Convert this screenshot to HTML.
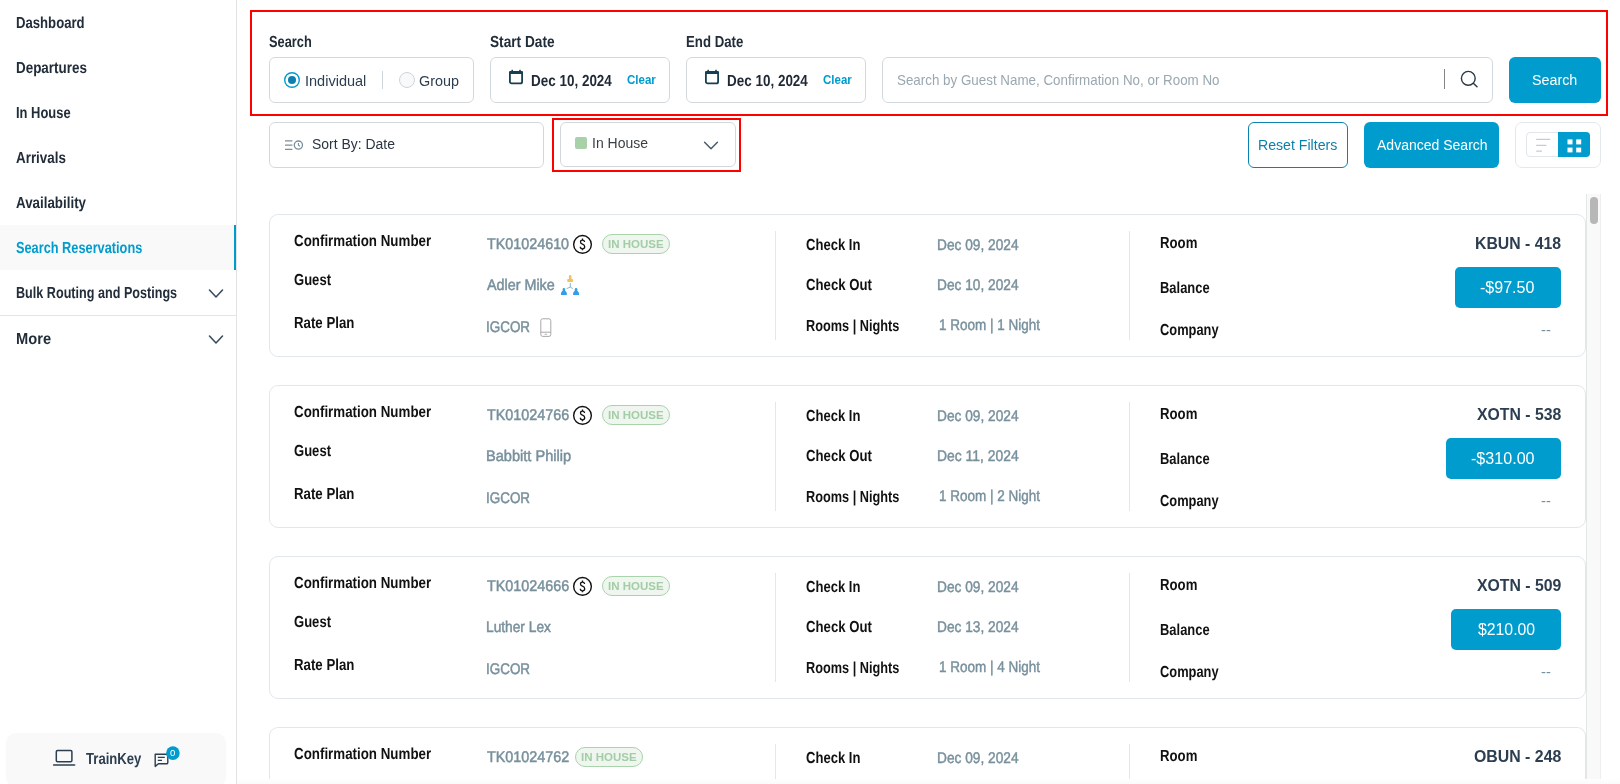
<!DOCTYPE html>
<html>
<head>
<meta charset="utf-8">
<title>Search Reservations</title>
<style>
*{box-sizing:border-box;margin:0;padding:0}
html,body{width:1620px;height:784px;overflow:hidden;background:#fff}
body{font-family:"Liberation Sans",sans-serif;position:relative}
#root{position:absolute;left:0;top:0;width:1620px;height:784px;overflow:hidden;will-change:transform}
.a{position:absolute;display:block}
.t{position:absolute;display:block;white-space:nowrap;line-height:20px;height:20px;transform-origin:0 50%}
</style>
</head>
<body>
<div id="root">
<div class="a" style="left:0;top:225px;width:236px;height:45px;background:#f9f9f9"></div>
<div class="a" style="left:234px;top:225px;width:2px;height:45px;background:#009cce"></div>
<div class="a" style="left:236px;top:0;width:1px;height:784px;background:#e2e3e5"></div>
<span class="t" style="left:16.04px;top:13.46px;font-size:16px;color:#222d3a;transform:scaleX(0.8209) rotate(0.03deg);font-weight:700;">Dashboard</span>
<span class="t" style="left:16.02px;top:58.46px;font-size:16px;color:#222d3a;transform:scaleX(0.8394) rotate(0.03deg);font-weight:700;">Departures</span>
<span class="t" style="left:16.05px;top:103.46px;font-size:16px;color:#222d3a;transform:scaleX(0.8082) rotate(0.03deg);font-weight:700;">In House</span>
<span class="t" style="left:15.77px;top:148.46px;font-size:16px;color:#222d3a;transform:scaleX(0.8369) rotate(0.03deg);font-weight:700;">Arrivals</span>
<span class="t" style="left:15.77px;top:193.46px;font-size:16px;color:#222d3a;transform:scaleX(0.8345) rotate(0.03deg);font-weight:700;">Availability</span>
<span class="t" style="left:15.94px;top:238.46px;font-size:16px;color:#009cce;transform:scaleX(0.7977) rotate(0.03deg);font-weight:700;">Search Reservations</span>
<span class="t" style="left:16.07px;top:283.46px;font-size:16px;color:#222d3a;transform:scaleX(0.7882) rotate(0.03deg);font-weight:700;">Bulk Routing and Postings</span>
<span class="t" style="left:15.94px;top:329.46px;font-size:16px;color:#222d3a;transform:scaleX(0.9168) rotate(0.03deg);font-weight:700;">More</span>
<div class="a" style="left:0;top:315px;width:236px;height:1px;background:#e2e4e6"></div>
<svg class="a" style="left:200px;top:283.9px" width="32" height="20" viewBox="0 0 32 20"><path d="M9.5 6 L16 13 L22.5 6" fill="none" stroke="#3b4d61" stroke-width="1.6" stroke-linecap="round" stroke-linejoin="round"/></svg>
<svg class="a" style="left:200px;top:329.9px" width="32" height="20" viewBox="0 0 32 20"><path d="M9.5 6 L16 13 L22.5 6" fill="none" stroke="#3b4d61" stroke-width="1.6" stroke-linecap="round" stroke-linejoin="round"/></svg>
<div class="a" style="left:6px;top:733px;width:220px;height:54px;background:#f9f9f9;border-radius:10px"></div>
<svg class="a" style="left:50px;top:745px" width="30" height="26" viewBox="0 0 30 26"><rect x="6.3" y="5.6" width="15.6" height="11.2" rx="1.2" fill="none" stroke="#2c3e50" stroke-width="1.5"/><path d="M3.6 20 H24.6" stroke="#2c3e50" stroke-width="1.5" stroke-linecap="round"/></svg>
<span class="t" style="left:86.18px;top:749.16px;font-size:16px;color:#2c3e50;transform:scaleX(0.8196) rotate(0.03deg);font-weight:700;">TrainKey</span>
<svg class="a" style="left:150px;top:742px" width="34" height="30" viewBox="0 0 34 30"><path d="M5.2 12.2 H16.6 a1.2 1.2 0 0 1 1.2 1.2 V20.6 a1.2 1.2 0 0 1 -1.2 1.2 H8.4 L5.2 24.4 Z" fill="none" stroke="#2c3e50" stroke-width="1.4" stroke-linejoin="round"/><path d="M7.8 15.3 H14.8 M7.8 18.3 H12" stroke="#2c3e50" stroke-width="1.3"/><circle cx="22.9" cy="11.1" r="6.8" fill="#009cce"/></svg>
<span class="t" style="left:170.25px;top:743.01px;font-size:9.5px;color:#fff;transform:scaleX(1.0110);">0</span>
<div class="a" style="left:250px;top:10px;width:1358px;height:106px;border:2px solid #fe0000"></div>
<span class="t" style="left:268.94px;top:32.46px;font-size:16px;color:#222d3a;transform:scaleX(0.8008) rotate(0.03deg);font-weight:700;">Search</span>
<span class="t" style="left:489.62px;top:32.46px;font-size:16px;color:#222d3a;transform:scaleX(0.8552) rotate(0.03deg);font-weight:700;">Start Date</span>
<span class="t" style="left:685.53px;top:32.46px;font-size:16px;color:#222d3a;transform:scaleX(0.8266) rotate(0.03deg);font-weight:700;">End Date</span>
<div class="a" style="left:269px;top:57px;width:205px;height:46px;border:1px solid #d2d9de;border-radius:6px;background:#fff"></div>
<svg class="a" style="left:280px;top:68px" width="140" height="24" viewBox="0 0 140 24"><circle cx="12" cy="12" r="7.3" fill="#fff" stroke="#009cce" stroke-width="1.4"/><circle cx="12" cy="12" r="4" fill="#0b7fb0"/><circle cx="127" cy="12" r="7.5" fill="#f8f9fa" stroke="#cdd5da" stroke-width="1"/></svg>
<span class="t" style="left:305.18px;top:71.05px;font-size:14.3px;color:#2c3e50;transform:scaleX(1.0155);">Individual</span>
<div class="a" style="left:382px;top:71px;width:1px;height:18px;background:#cfd6db"></div>
<span class="t" style="left:419.30px;top:71.05px;font-size:14.3px;color:#2c3e50;transform:scaleX(1.0065);">Group</span>
<div class="a" style="left:490px;top:57px;width:180px;height:46px;border:1px solid #d2d9de;border-radius:6px;background:#fff"></div>
<svg class="a" style="left:506px;top:66px" width="20" height="22" viewBox="0 0 20 22"><rect x="3.9" y="5.8" width="12.2" height="11.6" rx="1.7" fill="none" stroke="#173f52" stroke-width="1.8"/><rect x="3" y="5" width="14" height="3" rx="1.2" fill="#173f52"/><rect x="5.4" y="3.8" width="1.6" height="1.8" fill="#173f52"/><rect x="13.2" y="3.8" width="1.6" height="1.8" fill="#173f52"/></svg>
<span class="t" style="left:531.12px;top:71.46px;font-size:16px;color:#1f2835;transform:scaleX(0.8415) rotate(0.03deg);font-weight:700;">Dec 10, 2024</span>
<span class="t" style="left:626.74px;top:70.00px;font-size:12.4px;color:#009cce;transform:scaleX(0.9292);font-weight:700;">Clear</span>
<div class="a" style="left:686px;top:57px;width:180px;height:46px;border:1px solid #d2d9de;border-radius:6px;background:#fff"></div>
<svg class="a" style="left:702px;top:66px" width="20" height="22" viewBox="0 0 20 22"><rect x="3.9" y="5.8" width="12.2" height="11.6" rx="1.7" fill="none" stroke="#173f52" stroke-width="1.8"/><rect x="3" y="5" width="14" height="3" rx="1.2" fill="#173f52"/><rect x="5.4" y="3.8" width="1.6" height="1.8" fill="#173f52"/><rect x="13.2" y="3.8" width="1.6" height="1.8" fill="#173f52"/></svg>
<span class="t" style="left:727.12px;top:71.46px;font-size:16px;color:#1f2835;transform:scaleX(0.8415) rotate(0.03deg);font-weight:700;">Dec 10, 2024</span>
<span class="t" style="left:822.74px;top:70.00px;font-size:12.4px;color:#009cce;transform:scaleX(0.9292);font-weight:700;">Clear</span>
<div class="a" style="left:882px;top:57px;width:611px;height:46px;border:1px solid #d2d9de;border-radius:6px;background:#fff"></div>
<span class="t" style="left:896.59px;top:70.25px;font-size:14.3px;color:#9aa8b1;transform:scaleX(0.9353);">Search by Guest Name, Confirmation No, or Room No</span>
<div class="a" style="left:1444px;top:69px;width:1px;height:20px;background:#858585"></div>
<svg class="a" style="left:1456px;top:66px" width="26" height="26" viewBox="0 0 26 26"><circle cx="12.3" cy="12.3" r="6.9" fill="none" stroke="#2a3a47" stroke-width="1.4"/><path d="M17.3 17.3 L21 20.8" stroke="#2a3a47" stroke-width="1.5" stroke-linecap="round"/></svg>
<div class="a" style="left:1509px;top:57px;width:92px;height:46px;border-radius:6px;background:#009cce"></div>
<span class="t" style="left:1531.84px;top:69.75px;font-size:14px;color:#fff;transform:scaleX(1.0210);">Search</span>
<div class="a" style="left:269px;top:122px;width:275px;height:46px;border:1px solid #d2d9de;border-radius:6px;background:#fff"></div>
<svg class="a" style="left:282px;top:136px" width="24" height="18" viewBox="0 0 24 18"><path d="M3 4.8 H10.4 M3 9.1 H10.4 M3 13.4 H10.4" stroke="#7a8f99" stroke-width="1.2"/><circle cx="16.4" cy="9.1" r="4.1" fill="none" stroke="#7a8f99" stroke-width="1.3"/><path d="M16.4 6.9 V9.2 L18 10.2" fill="none" stroke="#7a8f99" stroke-width="1.1"/></svg>
<span class="t" style="left:312.15px;top:133.85px;font-size:14px;color:#2b3440;transform:scaleX(0.9963);">Sort By: Date</span>
<div class="a" style="left:552px;top:118px;width:189px;height:54px;border:2px solid #fe0000"></div>
<div class="a" style="left:560px;top:122px;width:176px;height:45px;border:1px solid #d2d9de;border-radius:6px;background:#fff"></div>
<div class="a" style="left:575px;top:137px;width:12px;height:12px;background:#a8d0a9;border-radius:2px"></div>
<span class="t" style="left:592.20px;top:133.05px;font-size:14px;color:#3a3f45;transform:scaleX(0.9991);">In House</span>
<svg class="a" style="left:700px;top:138px" width="22" height="16" viewBox="0 0 22 16"><path d="M4.6 4.3 L11 10.8 L17.4 4.3" fill="none" stroke="#4b5b6b" stroke-width="1.5" stroke-linecap="round" stroke-linejoin="round"/></svg>
<div class="a" style="left:1248px;top:122px;width:100px;height:46px;border:1.5px solid #0b83b0;border-radius:6px;background:#fff"></div>
<span class="t" style="left:1258.34px;top:135.35px;font-size:14px;color:#0b7fab;transform:scaleX(1.0091);">Reset Filters</span>
<div class="a" style="left:1364px;top:122px;width:135px;height:46px;border-radius:6px;background:#009cce"></div>
<span class="t" style="left:1376.85px;top:135.35px;font-size:14px;color:#fff;transform:scaleX(1.0009);">Advanced Search</span>
<div class="a" style="left:1515px;top:122px;width:86px;height:46px;border:1px solid #e3e8eb;border-radius:7px;background:#fff"></div>
<div class="a" style="left:1526px;top:132px;width:64px;height:25px;border:1px solid #e1e6e9;border-radius:4px;background:#fff"></div>
<div class="a" style="left:1558px;top:132px;width:32px;height:25px;border-radius:0 4px 4px 0;background:#009cce"></div>
<svg class="a" style="left:1530px;top:134px" width="58" height="22" viewBox="0 0 58 22"><path d="M6.2 5.4 H20.2 M6.2 11.4 H16.3 M6.2 17.2 H12" stroke="#c3ccd2" stroke-width="1.2"/><g fill="#fff"><rect x="37.5" y="5.4" width="5" height="5"/><rect x="46.2" y="5.4" width="5" height="5"/><rect x="37.5" y="13.6" width="5" height="4.8"/><rect x="46.2" y="13.6" width="5" height="4.8"/></g></svg>
<div class="a" style="left:269px;top:214px;width:1317px;height:143px;border:1px solid #e1e7ea;border-radius:9px;background:#fff"></div>
<div class="a" style="left:775px;top:231px;width:1px;height:109px;background:#e1e7ea"></div>
<div class="a" style="left:1129px;top:231px;width:1px;height:109px;background:#e1e7ea"></div>
<span class="t" style="left:293.76px;top:231.46px;font-size:16px;color:#111;transform:scaleX(0.8340) rotate(0.03deg);font-weight:700;">Confirmation Number</span>
<span class="t" style="left:487.22px;top:233.71px;font-size:15.4px;color:#78909c;transform:scaleX(0.9313) rotate(0.03deg);-webkit-text-stroke:0.5px #78909c;">TK01024610</span>
<svg class="a" style="left:571px;top:233px" width="24" height="24" viewBox="0 0 24 24"><circle cx="11.5" cy="11.4" r="8.85" fill="none" stroke="#111" stroke-width="1.4"/><path d="M13.5 9.1 C13.5 7.8 12.7 7.1 11.5 7.1 C10.3 7.1 9.5 7.9 9.5 8.9 C9.5 10.2 10.4 10.7 11.5 11.2 C12.7 11.7 13.7 12.3 13.7 13.7 C13.7 14.9 12.8 15.8 11.5 15.8 C10.2 15.8 9.3 15 9.3 13.8 M11.5 5.6 V7.2 M11.5 15.7 V17.3" fill="none" stroke="#111" stroke-width="1.3" stroke-linecap="butt"/></svg>
<div class="a" style="left:602px;top:234px;width:68px;height:19.5px;border:1px solid #a9d3ab;border-radius:10px;background:#eff6ef"></div>
<span class="t" style="left:608.04px;top:233.85px;font-size:11.4px;color:#a3cda6;transform:scaleX(1.0111);font-weight:700;">IN HOUSE</span>
<span class="t" style="left:806.27px;top:235.46px;font-size:16px;color:#111;transform:scaleX(0.8163) rotate(0.03deg);font-weight:700;">Check In</span>
<span class="t" style="left:937.31px;top:234.71px;font-size:15.4px;color:#78909c;transform:scaleX(0.8911) rotate(0.03deg);-webkit-text-stroke:0.45px #78909c;">Dec 09, 2024</span>
<span class="t" style="left:1159.93px;top:233.16px;font-size:16px;color:#111;transform:scaleX(0.8245) rotate(0.03deg);font-weight:700;">Room</span>
<span class="t" style="left:1475.17px;top:232.99px;font-size:16.2px;color:#2c3e50;transform:scaleX(0.9763);font-weight:700;">KBUN - 418</span>
<span class="t" style="left:293.77px;top:270.46px;font-size:16px;color:#111;transform:scaleX(0.8157) rotate(0.03deg);font-weight:700;">Guest</span>
<span class="t" style="left:293.73px;top:313.46px;font-size:16px;color:#111;transform:scaleX(0.8279) rotate(0.03deg);font-weight:700;">Rate Plan</span>
<span class="t" style="left:487.40px;top:275.01px;font-size:15.4px;color:#78909c;transform:scaleX(0.9313) rotate(0.03deg);-webkit-text-stroke:0.5px #78909c;">Adler Mike</span>
<span class="t" style="left:486.43px;top:316.51px;font-size:15.4px;color:#78909c;transform:scaleX(0.8728) rotate(0.03deg);-webkit-text-stroke:0.5px #78909c;">IGCOR</span>
<svg class="a" style="left:559px;top:273px" width="24" height="24" viewBox="0 0 24 24"><path d="M11.3 10 V14.1 L7.6 15.6 M11.3 14.1 L13.9 15.6" fill="none" stroke="#78acd2" stroke-width="0.9"/><g fill="#f0c163"><rect x="9.95" y="2" width="2.5" height="5.4" rx="1.25"/><rect x="8.2" y="6" width="5.8" height="3" rx="0.9"/></g><g fill="#2f9fe9"><rect x="3.65" y="14.9" width="2.5" height="4.6" rx="1.25"/><path d="M1.9 21.4 q0 -3.6 3 -3.6 q3 0 3 3.6 q0 0.6 -0.6 0.6 h-4.8 q-0.6 0 -0.6 -0.6 z"/><rect x="15.8" y="14.9" width="2.5" height="4.6" rx="1.25"/><path d="M14.05 21.4 q0 -3.6 3 -3.6 q3 0 3 3.6 q0 0.6 -0.6 0.6 h-4.8 q-0.6 0 -0.6 -0.6 z"/></g></svg>
<svg class="a" style="left:537px;top:316px" width="18" height="24" viewBox="0 0 18 24"><rect x="3.8" y="2.8" width="10" height="17.6" rx="1.8" fill="none" stroke="#a9a9a9" stroke-width="1"/><path d="M3.8 16.2 H13.8" stroke="#a9a9a9" stroke-width="1"/><path d="M7.6 18.3 H10" stroke="#a9a9a9" stroke-width="0.9"/></svg>
<span class="t" style="left:806.26px;top:275.46px;font-size:16px;color:#111;transform:scaleX(0.8232) rotate(0.03deg);font-weight:700;">Check Out</span>
<span class="t" style="left:806.26px;top:315.56px;font-size:16px;color:#111;transform:scaleX(0.7955) rotate(0.03deg);font-weight:700;">Rooms | Nights</span>
<span class="t" style="left:937.31px;top:275.01px;font-size:15.4px;color:#78909c;transform:scaleX(0.8911) rotate(0.03deg);-webkit-text-stroke:0.45px #78909c;">Dec 10, 2024</span>
<span class="t" style="left:938.52px;top:314.81px;font-size:15.4px;color:#78909c;transform:scaleX(0.8772) rotate(0.03deg);-webkit-text-stroke:0.45px #78909c;">1 Room | 1 Night</span>
<span class="t" style="left:1159.95px;top:278.06px;font-size:16px;color:#111;transform:scaleX(0.8084) rotate(0.03deg);font-weight:700;">Balance</span>
<span class="t" style="left:1160.28px;top:319.86px;font-size:16px;color:#111;transform:scaleX(0.8039) rotate(0.03deg);font-weight:700;">Company</span>
<div class="a" style="left:1455px;top:267px;width:106px;height:41px;border-radius:5px;background:#009cce"></div>
<span class="t" style="left:1480.30px;top:278.16px;font-size:16px;color:#fff;transform:scaleX(1.0028);">-$97.50</span>
<span class="t" style="left:1541.13px;top:319.58px;font-size:14.5px;color:#78909c;transform:scaleX(1.0238);">--</span>
<div class="a" style="left:269px;top:385px;width:1317px;height:143px;border:1px solid #e1e7ea;border-radius:9px;background:#fff"></div>
<div class="a" style="left:775px;top:402px;width:1px;height:109px;background:#e1e7ea"></div>
<div class="a" style="left:1129px;top:402px;width:1px;height:109px;background:#e1e7ea"></div>
<span class="t" style="left:293.76px;top:402.46px;font-size:16px;color:#111;transform:scaleX(0.8340) rotate(0.03deg);font-weight:700;">Confirmation Number</span>
<span class="t" style="left:487.22px;top:404.71px;font-size:15.4px;color:#78909c;transform:scaleX(0.9323) rotate(0.03deg);-webkit-text-stroke:0.5px #78909c;">TK01024766</span>
<svg class="a" style="left:571px;top:404px" width="24" height="24" viewBox="0 0 24 24"><circle cx="11.5" cy="11.4" r="8.85" fill="none" stroke="#111" stroke-width="1.4"/><path d="M13.5 9.1 C13.5 7.8 12.7 7.1 11.5 7.1 C10.3 7.1 9.5 7.9 9.5 8.9 C9.5 10.2 10.4 10.7 11.5 11.2 C12.7 11.7 13.7 12.3 13.7 13.7 C13.7 14.9 12.8 15.8 11.5 15.8 C10.2 15.8 9.3 15 9.3 13.8 M11.5 5.6 V7.2 M11.5 15.7 V17.3" fill="none" stroke="#111" stroke-width="1.3" stroke-linecap="butt"/></svg>
<div class="a" style="left:602px;top:405px;width:68px;height:19.5px;border:1px solid #a9d3ab;border-radius:10px;background:#eff6ef"></div>
<span class="t" style="left:608.04px;top:404.85px;font-size:11.4px;color:#a3cda6;transform:scaleX(1.0111);font-weight:700;">IN HOUSE</span>
<span class="t" style="left:806.27px;top:406.46px;font-size:16px;color:#111;transform:scaleX(0.8163) rotate(0.03deg);font-weight:700;">Check In</span>
<span class="t" style="left:937.31px;top:405.71px;font-size:15.4px;color:#78909c;transform:scaleX(0.8911) rotate(0.03deg);-webkit-text-stroke:0.45px #78909c;">Dec 09, 2024</span>
<span class="t" style="left:1159.93px;top:404.16px;font-size:16px;color:#111;transform:scaleX(0.8245) rotate(0.03deg);font-weight:700;">Room</span>
<span class="t" style="left:1476.95px;top:403.99px;font-size:16.2px;color:#2c3e50;transform:scaleX(0.9761);font-weight:700;">XOTN - 538</span>
<span class="t" style="left:293.77px;top:441.46px;font-size:16px;color:#111;transform:scaleX(0.8157) rotate(0.03deg);font-weight:700;">Guest</span>
<span class="t" style="left:293.73px;top:484.46px;font-size:16px;color:#111;transform:scaleX(0.8279) rotate(0.03deg);font-weight:700;">Rate Plan</span>
<span class="t" style="left:486.27px;top:446.01px;font-size:15.4px;color:#78909c;transform:scaleX(0.9477) rotate(0.03deg);-webkit-text-stroke:0.5px #78909c;">Babbitt Philip</span>
<span class="t" style="left:486.43px;top:487.51px;font-size:15.4px;color:#78909c;transform:scaleX(0.8728) rotate(0.03deg);-webkit-text-stroke:0.5px #78909c;">IGCOR</span>
<span class="t" style="left:806.26px;top:446.46px;font-size:16px;color:#111;transform:scaleX(0.8232) rotate(0.03deg);font-weight:700;">Check Out</span>
<span class="t" style="left:806.26px;top:486.56px;font-size:16px;color:#111;transform:scaleX(0.7955) rotate(0.03deg);font-weight:700;">Rooms | Nights</span>
<span class="t" style="left:937.30px;top:446.01px;font-size:15.4px;color:#78909c;transform:scaleX(0.9026) rotate(0.03deg);-webkit-text-stroke:0.45px #78909c;">Dec 11, 2024</span>
<span class="t" style="left:938.52px;top:485.81px;font-size:15.4px;color:#78909c;transform:scaleX(0.8772) rotate(0.03deg);-webkit-text-stroke:0.45px #78909c;">1 Room | 2 Night</span>
<span class="t" style="left:1159.95px;top:449.06px;font-size:16px;color:#111;transform:scaleX(0.8084) rotate(0.03deg);font-weight:700;">Balance</span>
<span class="t" style="left:1160.28px;top:490.86px;font-size:16px;color:#111;transform:scaleX(0.8039) rotate(0.03deg);font-weight:700;">Company</span>
<div class="a" style="left:1446px;top:438px;width:115px;height:41px;border-radius:5px;background:#009cce"></div>
<span class="t" style="left:1471.20px;top:449.16px;font-size:16px;color:#fff;transform:scaleX(1.0057);">-$310.00</span>
<span class="t" style="left:1541.13px;top:490.58px;font-size:14.5px;color:#78909c;transform:scaleX(1.0238);">--</span>
<div class="a" style="left:269px;top:556px;width:1317px;height:143px;border:1px solid #e1e7ea;border-radius:9px;background:#fff"></div>
<div class="a" style="left:775px;top:573px;width:1px;height:109px;background:#e1e7ea"></div>
<div class="a" style="left:1129px;top:573px;width:1px;height:109px;background:#e1e7ea"></div>
<span class="t" style="left:293.76px;top:573.46px;font-size:16px;color:#111;transform:scaleX(0.8340) rotate(0.03deg);font-weight:700;">Confirmation Number</span>
<span class="t" style="left:487.22px;top:575.71px;font-size:15.4px;color:#78909c;transform:scaleX(0.9323) rotate(0.03deg);-webkit-text-stroke:0.5px #78909c;">TK01024666</span>
<svg class="a" style="left:571px;top:575px" width="24" height="24" viewBox="0 0 24 24"><circle cx="11.5" cy="11.4" r="8.85" fill="none" stroke="#111" stroke-width="1.4"/><path d="M13.5 9.1 C13.5 7.8 12.7 7.1 11.5 7.1 C10.3 7.1 9.5 7.9 9.5 8.9 C9.5 10.2 10.4 10.7 11.5 11.2 C12.7 11.7 13.7 12.3 13.7 13.7 C13.7 14.9 12.8 15.8 11.5 15.8 C10.2 15.8 9.3 15 9.3 13.8 M11.5 5.6 V7.2 M11.5 15.7 V17.3" fill="none" stroke="#111" stroke-width="1.3" stroke-linecap="butt"/></svg>
<div class="a" style="left:602px;top:576px;width:68px;height:19.5px;border:1px solid #a9d3ab;border-radius:10px;background:#eff6ef"></div>
<span class="t" style="left:608.04px;top:575.85px;font-size:11.4px;color:#a3cda6;transform:scaleX(1.0111);font-weight:700;">IN HOUSE</span>
<span class="t" style="left:806.27px;top:577.46px;font-size:16px;color:#111;transform:scaleX(0.8163) rotate(0.03deg);font-weight:700;">Check In</span>
<span class="t" style="left:937.31px;top:576.71px;font-size:15.4px;color:#78909c;transform:scaleX(0.8911) rotate(0.03deg);-webkit-text-stroke:0.45px #78909c;">Dec 09, 2024</span>
<span class="t" style="left:1159.93px;top:575.16px;font-size:16px;color:#111;transform:scaleX(0.8245) rotate(0.03deg);font-weight:700;">Room</span>
<span class="t" style="left:1476.95px;top:574.99px;font-size:16.2px;color:#2c3e50;transform:scaleX(0.9772);font-weight:700;">XOTN - 509</span>
<span class="t" style="left:293.77px;top:612.46px;font-size:16px;color:#111;transform:scaleX(0.8157) rotate(0.03deg);font-weight:700;">Guest</span>
<span class="t" style="left:293.73px;top:655.46px;font-size:16px;color:#111;transform:scaleX(0.8279) rotate(0.03deg);font-weight:700;">Rate Plan</span>
<span class="t" style="left:486.33px;top:617.01px;font-size:15.4px;color:#78909c;transform:scaleX(0.8922) rotate(0.03deg);-webkit-text-stroke:0.5px #78909c;">Luther Lex</span>
<span class="t" style="left:486.43px;top:658.51px;font-size:15.4px;color:#78909c;transform:scaleX(0.8728) rotate(0.03deg);-webkit-text-stroke:0.5px #78909c;">IGCOR</span>
<span class="t" style="left:806.26px;top:617.46px;font-size:16px;color:#111;transform:scaleX(0.8232) rotate(0.03deg);font-weight:700;">Check Out</span>
<span class="t" style="left:806.26px;top:657.56px;font-size:16px;color:#111;transform:scaleX(0.7955) rotate(0.03deg);font-weight:700;">Rooms | Nights</span>
<span class="t" style="left:937.31px;top:617.01px;font-size:15.4px;color:#78909c;transform:scaleX(0.8911) rotate(0.03deg);-webkit-text-stroke:0.45px #78909c;">Dec 13, 2024</span>
<span class="t" style="left:938.52px;top:656.81px;font-size:15.4px;color:#78909c;transform:scaleX(0.8772) rotate(0.03deg);-webkit-text-stroke:0.45px #78909c;">1 Room | 4 Night</span>
<span class="t" style="left:1159.95px;top:620.06px;font-size:16px;color:#111;transform:scaleX(0.8084) rotate(0.03deg);font-weight:700;">Balance</span>
<span class="t" style="left:1160.28px;top:661.86px;font-size:16px;color:#111;transform:scaleX(0.8039) rotate(0.03deg);font-weight:700;">Company</span>
<div class="a" style="left:1451px;top:609px;width:110px;height:41px;border-radius:5px;background:#009cce"></div>
<span class="t" style="left:1477.55px;top:620.16px;font-size:16px;color:#fff;transform:scaleX(0.9877);">$210.00</span>
<span class="t" style="left:1541.13px;top:661.58px;font-size:14.5px;color:#78909c;transform:scaleX(1.0238);">--</span>
<div class="a" style="left:269px;top:727px;width:1317px;height:70px;border:1px solid #e1e7ea;border-bottom:none;border-radius:9px 9px 0 0;background:#fff"></div>
<div class="a" style="left:775px;top:744px;width:1px;height:40px;background:#e1e7ea"></div>
<div class="a" style="left:1129px;top:744px;width:1px;height:40px;background:#e1e7ea"></div>
<span class="t" style="left:293.76px;top:744.46px;font-size:16px;color:#111;transform:scaleX(0.8340) rotate(0.03deg);font-weight:700;">Confirmation Number</span>
<span class="t" style="left:487.22px;top:746.71px;font-size:15.4px;color:#78909c;transform:scaleX(0.9334) rotate(0.03deg);-webkit-text-stroke:0.5px #78909c;">TK01024762</span>
<div class="a" style="left:575px;top:747px;width:68px;height:19.5px;border:1px solid #a9d3ab;border-radius:10px;background:#eff6ef"></div>
<span class="t" style="left:581.04px;top:746.85px;font-size:11.4px;color:#a3cda6;transform:scaleX(1.0111);font-weight:700;">IN HOUSE</span>
<span class="t" style="left:806.27px;top:748.46px;font-size:16px;color:#111;transform:scaleX(0.8163) rotate(0.03deg);font-weight:700;">Check In</span>
<span class="t" style="left:937.31px;top:747.71px;font-size:15.4px;color:#78909c;transform:scaleX(0.8911) rotate(0.03deg);-webkit-text-stroke:0.45px #78909c;">Dec 09, 2024</span>
<span class="t" style="left:1159.93px;top:746.16px;font-size:16px;color:#111;transform:scaleX(0.8245) rotate(0.03deg);font-weight:700;">Room</span>
<span class="t" style="left:1473.96px;top:745.99px;font-size:16.2px;color:#2c3e50;transform:scaleX(0.9801);font-weight:700;">OBUN - 248</span>
<div class="a" style="left:1586px;top:194px;width:15px;height:585px;background:#f9f9f9;border-left:1px solid #e4e7e8;border-right:1px solid #eeeeee"></div>
<div class="a" style="left:1590px;top:197px;width:8px;height:27px;border-radius:4px;background:#b7b7b7"></div>
<div class="a" style="left:237px;top:779px;width:1383px;height:5px;background:linear-gradient(#fefefe,#fafafa)"></div>
</div>
</body>
</html>
